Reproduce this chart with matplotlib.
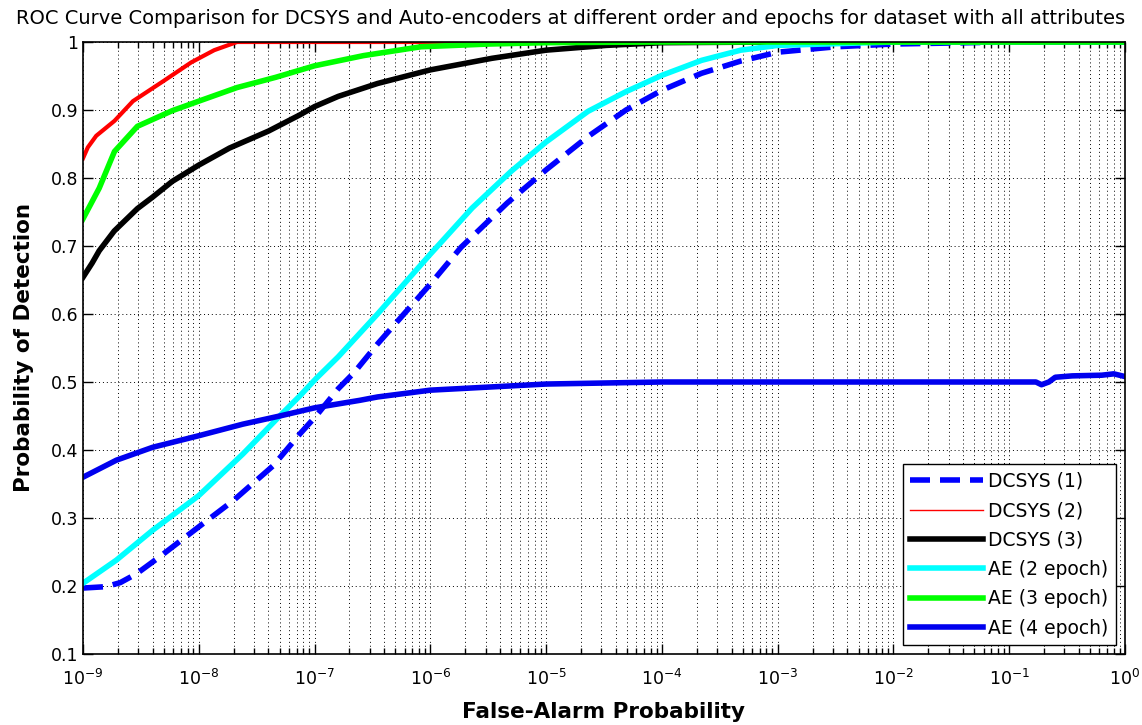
import numpy as np
import matplotlib
matplotlib.use("Agg")
import matplotlib.pyplot as plt
from matplotlib.lines import Line2D
from matplotlib.ticker import FixedLocator, NullFormatter

# =============================================================================
# Data (false-alarm probability vs detection prob.)
# =============================================================================
fa_dcsys1 = [1e-9, 1.58e-9, 2.1e-9, 2.9e-9, 4.6e-9, 1e-8, 2e-8, 4.4e-8,
             7.5e-8, 1.03e-7, 1.6e-7, 2.2e-7, 3.5e-7, 1e-6, 1.84e-6, 4.6e-6,
             1e-5, 2.3e-5, 4.9e-5, 1e-4, 2.2e-4, 4.8e-4, 1e-3, 3.2e-3,
             1e-2, 1e-1, 1e0]
pd_dcsys1 = [0.197, 0.199, 0.205, 0.218, 0.243, 0.287, 0.326, 0.377,
             0.424, 0.450, 0.490, 0.514, 0.556, 0.644, 0.698, 0.763,
             0.812, 0.861, 0.900, 0.929, 0.954, 0.972, 0.985, 0.993,
             0.997, 1.0, 1.0]

fa_dcsys2 = [1e-9, 1.1e-9, 1.3e-9, 1.87e-9, 2.7e-9, 5e-9, 8.6e-9, 1.36e-8,
             2.14e-8, 1e0]
pd_dcsys2 = [0.829, 0.845, 0.862, 0.884, 0.913, 0.943, 0.970, 0.988,
             1.0, 1.0]

fa_dcsys3 = [1e-9, 1.2e-9, 1.38e-9, 1.86e-9, 2.95e-9, 4e-9, 5.9e-9, 1e-8,
             1.84e-8, 4e-8, 7.5e-8, 1e-7, 1.6e-7, 3.5e-7, 1e-6, 3.4e-6,
             1e-5, 3.3e-5, 1e-4, 1e-3, 1e0]
pd_dcsys3 = [0.654, 0.675, 0.693, 0.722, 0.755, 0.772, 0.795, 0.819,
             0.844, 0.869, 0.893, 0.905, 0.920, 0.939, 0.959, 0.976,
             0.988, 0.995, 0.999, 1.0, 1.0]

fa_ae2 = [1e-9, 1.94e-9, 4e-9, 1e-8, 2.4e-8, 5e-8, 7.5e-8, 1.03e-7,
          1.6e-7, 3.5e-7, 1e-6, 2.3e-6, 5e-6, 1e-5, 2.3e-5, 4.9e-5,
          1e-4, 2.2e-4, 4.8e-4, 1e-3, 1e-2, 1e0]
pd_ae2 = [0.204, 0.238, 0.282, 0.333, 0.394, 0.450, 0.480, 0.505,
          0.537, 0.600, 0.688, 0.756, 0.810, 0.853, 0.898, 0.927,
          0.951, 0.973, 0.988, 0.995, 1.0, 1.0]

fa_ae3 = [1e-9, 1.38e-9, 1.87e-9, 2.95e-9, 5.9e-9, 1e-8, 2.14e-8, 4.6e-8,
          1e-7, 2.65e-7, 8.3e-7, 3.2e-6, 1e-5, 1e-4, 1e0]
pd_ae3 = [0.740, 0.785, 0.839, 0.876, 0.899, 0.913, 0.933, 0.948,
          0.965, 0.980, 0.993, 0.997, 0.999, 1.0, 1.0]

fa_ae4 = [1e-9, 1.94e-9, 4e-9, 1e-8, 2.4e-8, 5e-8, 1e-7, 2.45e-7,
          3.5e-7, 1e-6, 1e-5, 1e-4, 1e-1, 0.17, 0.19, 0.22, 0.25, 0.35,
          0.63, 0.8, 1e0]
pd_ae4 = [0.360, 0.385, 0.404, 0.421, 0.438, 0.450, 0.462, 0.473,
          0.478, 0.488, 0.497, 0.500, 0.500, 0.500, 0.496, 0.500, 0.507,
          0.509, 0.510, 0.512, 0.508]

labels = ["DCSYS (1)", "DCSYS (2)", "DCSYS (3)",
          "AE (2 epoch)", "AE (3 epoch)", "AE (4 epoch)"]
x_ticks = [1e-9, 1e-8, 1e-7, 1e-6, 1e-5, 1e-4, 1e-3, 1e-2, 1e-1, 1e0]
y_ticks = [0.1, 0.2, 0.3, 0.4, 0.5, 0.6, 0.7, 0.8, 0.9, 1]
y_ticklabels = ["0.1", "0.2", "0.3", "0.4", "0.5", "0.6", "0.7",
                "0.8", "0.9", "1"]
title = ("ROC Curve Comparison for DCSYS and Auto-encoders at different "
         "order and epochs for dataset with all attributes")

# =============================================================================
# Plotting
# =============================================================================
plt.rcParams["font.family"] = "DejaVu Sans"
plt.rcParams["mathtext.default"] = "regular"

fig = plt.figure(figsize=(11.42, 7.25), dpi=100)
ax = fig.add_axes([83/1142, 1 - 654/725, 1042/1142, 612/725])

ax.plot(fa_dcsys1, pd_dcsys1, color="#0000ff", lw=4, dashes=(3.6, 1.8))
ax.plot(fa_dcsys2, pd_dcsys2, color="#ff0000", lw=3)
ax.plot(fa_dcsys3, pd_dcsys3, color="black", lw=4)
ax.plot(fa_ae2, pd_ae2, color="#00ffff", lw=4)
ax.plot(fa_ae3, pd_ae3, color="#00ff00", lw=4)
ax.plot(fa_ae4, pd_ae4, color="#0000ee", lw=4)

ax.set_xscale("log")
ax.set_xlim(1e-9, 1e0)
ax.set_ylim(0.1, 1)
ax.set_xticks(x_ticks)
ax.set_xticklabels([r"$10^{%d}$" % round(np.log10(v)) for v in x_ticks])
minor = [m * t for t in x_ticks[:-1] for m in range(2, 10)]
ax.xaxis.set_minor_locator(FixedLocator(minor))
ax.xaxis.set_minor_formatter(NullFormatter())
ax.set_yticks(y_ticks)
ax.set_yticklabels(y_ticklabels)

ax.tick_params(which="both", direction="in", top=True, right=True,
               labelsize=12.5, width=1)
ax.tick_params(which="major", length=7)
ax.tick_params(which="minor", length=4)
ax.tick_params(axis="x", pad=11)

grid_style = dict(color="black", lw=0.7, linestyle=(0, (1, 3)))
ax.grid(True, which="major", axis="both", **grid_style)
ax.grid(True, which="minor", axis="x", **grid_style)
for sp in ax.spines.values():
    sp.set_linewidth(1.2)

# title is centred on the figure, not on the axes
fig.text(0.5, 1 - 18/725, title, fontsize=14, ha="center", va="center")
ax.set_xlabel("False-Alarm Probability", fontsize=15.5, fontweight="bold",
              labelpad=9)
ax.set_ylabel("Probability of Detection", fontsize=15.5, fontweight="bold",
              labelpad=12)

handles = [
    Line2D([], [], color="#0000ff", lw=4, dashes=(3.6, 1.8)),
    Line2D([], [], color="#ff0000", lw=1),
    Line2D([], [], color="black", lw=4),
    Line2D([], [], color="#00ffff", lw=4),
    Line2D([], [], color="#00ff00", lw=4),
    Line2D([], [], color="#0000ee", lw=4),
]
leg = ax.legend(handles, labels, loc="lower right", fontsize=13.5,
                handlelength=3.9, handletextpad=0.27, labelspacing=0.55,
                borderaxespad=0.48, fancybox=False, framealpha=1,
                edgecolor="black")
leg.get_frame().set_linewidth(1)

fig.savefig("out.png", dpi=100)
